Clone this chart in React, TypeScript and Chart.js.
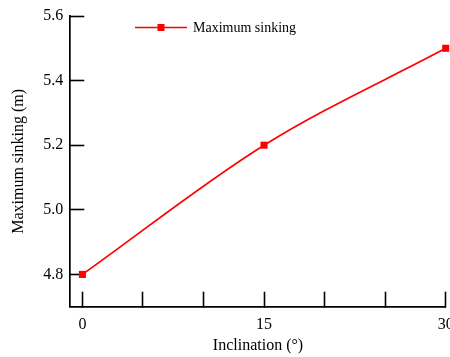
import React, { useEffect, useRef } from "react";
import { Chart, registerables } from "chart.js";

Chart.register(...registerables);

const INCLINATION = [0, 15, 30];
const MAX_SINKING = [4.8, 5.2, 5.5];
const X_TICKS = [0, 5, 10, 15, 20, 25, 30];
const X_TICK_LABELS = [0, 15, 30];
const Y_TICKS = [4.8, 5.0, 5.2, 5.4, 5.6];
const SERIES_LABEL = "Maximum sinking";
const X_TITLE = "Inclination (°)";
const Y_TITLE = "Maximum sinking (m)";

const FONT = "'Liberation Serif', 'Times New Roman', serif";
const RED = "#ff0000";

const legendPlugin = {
  id: "customLegend",
  afterDraw(chart: any) {
    const ctx = chart.ctx;
    const ds = chart.data.datasets[0];
    ctx.save();
    ctx.strokeStyle = RED;
    ctx.lineWidth = 1.7;
    ctx.beginPath();
    ctx.moveTo(135, 27.5);
    ctx.lineTo(187, 27.5);
    ctx.stroke();
    ctx.fillStyle = RED;
    ctx.fillRect(157.5, 24, 7, 7);
    ctx.fillStyle = "#000";
    ctx.font = `14px ${FONT}`;
    ctx.textBaseline = "alphabetic";
    ctx.textAlign = "left";
    ctx.fillText(ds.label, 193, 32.3);
    ctx.restore();
  },
};

export default function App() {
  const ref = useRef<HTMLCanvasElement | null>(null);

  useEffect(() => {
    if (!ref.current) return;
    const chart = new Chart(ref.current, {
      type: "scatter",
      data: {
        datasets: [
          {
            label: SERIES_LABEL,
            data: INCLINATION.map((x, i) => ({ x, y: MAX_SINKING[i] })),
            showLine: true,
            borderColor: RED,
            backgroundColor: RED,
            borderWidth: 1.7,
            pointStyle: "rect",
            pointRadius: 5,
            pointBorderWidth: 0,
            cubicInterpolationMode: "monotone",
            clip: false,
          } as any,
        ],
      },
      plugins: [legendPlugin],
      options: {
        animation: false,
        responsive: false,
        devicePixelRatio: 1,
        layout: { padding: { top: 16, right: 24.3, left: 0, bottom: 0 } },
        plugins: {
          legend: { display: false },
          tooltip: { enabled: false },
        },
        scales: {
          x: {
            type: "linear",
            position: "bottom",
            min: -1,
            max: 30,
            border: { display: true, color: "#000", width: 1.7 },
            grid: {
              drawOnChartArea: false,
              drawTicks: true,
              tickLength: -15,
              tickWidth: 1.6,
              tickColor: "#000",
            },
            ticks: {
              padding: 23,
              color: "#000",
              font: { family: FONT, size: 16 },
              maxRotation: 0,
              autoSkip: false,
              callback: (v: any) => (X_TICK_LABELS.includes(Number(v)) ? String(v) : ""),
            },
            afterBuildTicks: (s: any) => {
              s.ticks = X_TICKS.map((value) => ({ value }));
            },
            afterFit: (s: any) => {
              s.height = 50.3;
              s.paddingLeft = 0;
              s.paddingRight = 0;
            },
            title: {
              display: true,
              text: X_TITLE,
              color: "#000",
              font: { family: FONT, size: 16 },
              padding: { top: 0, bottom: 2 },
            },
          },
          y: {
            type: "linear",
            min: 4.7,
            max: 5.6,
            border: { display: true, color: "#000", width: 1.7 },
            grid: {
              drawOnChartArea: false,
              drawTicks: true,
              tickLength: -14,
              tickWidth: 1.6,
              tickColor: "#000",
            },
            ticks: {
              padding: 21,
              color: "#000",
              font: { family: FONT, size: 16 },
              callback: (v: any) => Number(v).toFixed(1),
            },
            afterBuildTicks: (s: any) => {
              s.ticks = Y_TICKS.map((value) => ({ value }));
            },
            afterFit: (s: any) => {
              s.width = 70.3;
              s.paddingTop = 0;
              s.paddingBottom = 0;
            },
            title: {
              display: true,
              text: Y_TITLE,
              color: "#000",
              font: { family: FONT, size: 16 },
              padding: { top: 9, bottom: 0 },
            },
          },
        },
      } as any,
    });
    return () => chart.destroy();
  }, []);

  return (
    <div
      style={{
        position: "absolute",
        left: 0,
        top: 0,
        width: 450,
        height: 357,
        overflow: "hidden",
        background: "#fff",
      }}
    >
      <canvas ref={ref} width={470} height={357} style={{ display: "block", width: 470, height: 357 }} />
    </div>
  );
}
